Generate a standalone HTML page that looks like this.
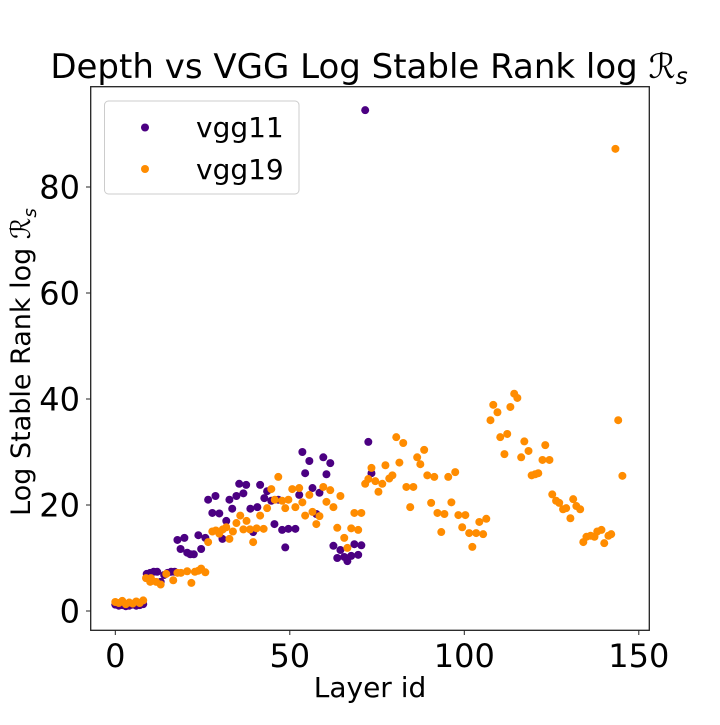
<!DOCTYPE html>
<html><head><meta charset="utf-8"><style>
body{margin:0;background:#fff}
svg text{font-family:"DejaVu Sans","Liberation Sans",sans-serif;fill:#000}
</style></head><body>
<svg id="chart" width="720" height="720" xmlns="http://www.w3.org/2000/svg">
<text x="369" y="78" font-size="34" text-anchor="middle">Depth vs VGG Log Stable Rank log <tspan font-style="italic">ℛ</tspan><tspan font-size="23" dy="6" font-style="italic">s</tspan></text>
<g id="marks"></g>
<rect x="90.7" y="86.7" width="558.6" height="543.6" fill="none" stroke="#222" stroke-width="1.3"/>
<g id="axes"></g>
<text x="370" y="697" font-size="28" text-anchor="middle">Layer id</text>
<text transform="translate(30,362) rotate(-90)" font-size="27" text-anchor="middle">Log Stable Rank log <tspan font-style="italic">ℛ</tspan><tspan font-size="18" dy="6" font-style="italic">s</tspan></text>
<g>
<rect x="104.5" y="101" width="194.5" height="93" rx="4" fill="#fff" fill-opacity="0.8" stroke="#ccc"/>
<circle cx="145" cy="127.5" r="4" fill="#4b0082"/>
<text x="196" y="137" font-size="28">vgg11</text>
<circle cx="145" cy="169" r="4" fill="#ff8c00"/>
<text x="196" y="179" font-size="28">vgg19</text>
</g>
</svg>
<script>
const xTicks=[0,50,100,150];
const yTicks=[0,20,40,60,80];
const vgg11Ids=[0,1,2,3,4,5,6,7,8,9,10,11,12,13,14,15,16,17,17.8,18.7,19.8,20.6,21.5,22.5,23.8,24.6,25.8,26.6,27.8,28.7,29.8,30.7,31.8,32.7,33.5,34.7,35.5,36.7,37.5,38.7,39.5,40.7,41.5,42.7,43.5,44.7,45.6,46.7,47.8,48.7,49.6,51.6,52.7,53.6,54.4,55.6,56.5,57.6,58.5,59.6,60.5,61.6,62.5,63.6,64.5,65.6,66.5,67.6,68.5,69.6,70.5,71.6,72.5,73.4];
const vgg11Vals=[1.2,1.0,1.1,0.9,1.0,1.2,1.0,1.1,1.3,7,7.2,7.4,7.4,5.5,6.8,7.2,7.4,7.4,13.4,11.7,13.8,11,10.7,10.7,14.3,11.7,13.8,21,18.5,21.7,18.4,13.6,17,21,19.3,21.7,24,22.2,23.8,19.3,14.9,19.6,23.8,21.3,22.6,20.8,16.4,21,15.3,12,15.5,15.5,21.9,30,26,28.3,23.2,18.3,22.3,29,25.8,27.9,12.3,10,11.5,10.2,9.4,10.4,12.6,10.6,12.4,94.5,31.9,26];
const vgg19Ids=[0,1,2,3,4,5,6,7,8,8.8,10.2,10,11.7,13,14.6,16.6,17.8,18.8,20.6,21.8,22.8,23.8,24.6,25.8,26.6,27.8,28.8,29.8,30.8,31.8,32.7,33.7,34.7,35.8,36.7,37.6,38.6,39.5,40.5,41.5,42.5,43.5,44.7,45.7,46.7,47.8,48.7,49.6,50.7,51.6,52.7,53.6,54.4,55.6,56.5,57.6,58.5,59.6,60.5,61.6,62.5,63.6,64.5,65.6,66.5,67.6,68.5,69.6,70.5,71.6,72.5,73.4,74.5,75.4,76.5,77.4,78.5,79.4,80.5,81.4,82.5,83.4,84.5,85.4,86.5,87.4,88.5,89.4,90.5,91.4,92.3,93.4,94.3,95.4,96.3,97.4,98.3,99.4,100.3,101.4,102.3,103.4,104.3,105.4,106.3,107.5,108.3,109.5,110.3,111.5,112.3,113.2,114.3,115.2,116.3,117.2,118.4,119.3,120.3,121.2,122.4,123.2,124.4,125.2,126.3,127.2,128.3,129.2,130.4,131.2,132.1,133.2,134.1,135,136.2,137.3,138.1,139.3,140.1,141.3,142.1,143.3,144.1,145.3];
const vgg19Vals=[1.7,1.5,1.9,1.3,1.6,1.4,1.8,1.5,2,6.2,6.2,5.5,5.5,5,7,5.8,7.2,7.2,7.5,5.3,7.4,7.6,8,7.3,13,15,15.2,14.6,15.4,15.8,13.6,15,16.6,18,15.4,17,15.4,13,15.6,18,15.5,19.4,23,21,25.3,20.8,19.4,21,23,19.6,23.2,20.5,18,21.9,18.7,16.4,17.9,23.4,20.6,22.8,19.6,15.7,21.7,13.8,11.9,15.6,18.5,15.3,18.5,24,24.9,27,24.5,22.5,24,27.5,25,25.6,32.8,28,31.7,23.4,19.6,23.4,29,27.7,30.4,25.6,20.4,25.3,18.5,14.9,18.3,25.3,20.5,26.2,18.1,15.8,18.1,14.7,12.1,14.7,16.8,14.5,17.4,36,38.9,37.5,32.8,29.6,33.4,38.5,41,40.2,29,32,30.2,25.6,25.8,26,28.5,31.3,28.5,22,20.8,20.4,19.2,19.4,17.5,21.1,19.8,19.2,13,14,14.2,14,15,15.3,12.8,14.2,14.5,87.2,36,25.5];
const X0=115.3,XS=3.49,Y0=611,YS=5.3;
function sx(v){return X0+v*XS;}
function sy(v){return Y0-v*YS;}
const NS="http://www.w3.org/2000/svg";
const marks=document.getElementById('marks');
const axes=document.getElementById('axes');
function draw(ids,vals,color,name){
  for(let i=0;i<ids.length;i++){
    const c=document.createElementNS(NS,'circle');
    c.setAttribute('cx',sx(ids[i]));c.setAttribute('cy',sy(vals[i]));
    c.setAttribute('r',4);c.setAttribute('fill',color);
    
    
    marks.appendChild(c);
  }
}
draw(vgg11Ids,vgg11Vals,'#4b0082','vgg11');
draw(vgg19Ids,vgg19Vals,'#ff8c00','vgg19');
xTicks.forEach(t=>{
  const l=document.createElementNS(NS,'line');
  l.setAttribute('x1',sx(t));l.setAttribute('x2',sx(t));l.setAttribute('y1',630.3);l.setAttribute('y2',635);
  l.setAttribute('stroke','#222');
  
  
  axes.appendChild(l);
  const tx=document.createElementNS(NS,'text');
  tx.setAttribute('x',sx(t));tx.setAttribute('y',667);tx.setAttribute('font-size',32);tx.setAttribute('text-anchor','middle');
  tx.textContent=t;
  
  
  axes.appendChild(tx);
});
yTicks.forEach(t=>{
  const l=document.createElementNS(NS,'line');
  l.setAttribute('x1',86);l.setAttribute('x2',90.7);l.setAttribute('y1',sy(t));l.setAttribute('y2',sy(t));
  l.setAttribute('stroke','#222');
  
  
  axes.appendChild(l);
  const tx=document.createElementNS(NS,'text');
  tx.setAttribute('x',80);tx.setAttribute('y',sy(t)+11.5);tx.setAttribute('font-size',32);tx.setAttribute('text-anchor','end');
  tx.textContent=t;
  
  
  axes.appendChild(tx);
});
</script>
</body></html>
